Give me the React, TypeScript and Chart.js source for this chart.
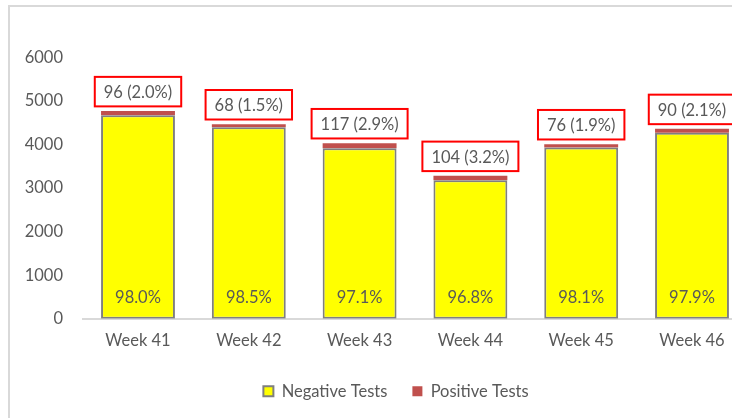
import React, { useEffect, useRef } from "react";
import { Chart, registerables } from "chart.js";

Chart.register(...registerables);

const categories = ["Week 41", "Week 42", "Week 43", "Week 44", "Week 45", "Week 46"];
const negativeTests = [4670, 4397, 3913, 3177, 3931, 4268];
const positiveTests = [96, 68, 117, 104, 76, 90];
const yMax = 6000;
const yStep = 1000;

const FONT = "Lato";
const FS = 16.5;
const TEXT = "#595959";

const labelPlugin = {
  id: "valueLabels",
  afterLayout(chart: any) {
    // centre the legend on the whole chart frame, as in the source
    if (chart.legend) {
      chart.legend.left = 34.6;
    }
  },
  afterDatasetsDraw(chart: any) {
    const ctx = chart.ctx;
    const negMeta = chart.getDatasetMeta(0);
    const posMeta = chart.getDatasetMeta(1);
    ctx.save();
    ctx.font = `${FS}px ${FONT}`;
    ctx.textAlign = "center";
    ctx.textBaseline = "middle";
    categories.forEach((_, i) => {
      const total = negativeTests[i] + positiveTests[i];
      const negPct = ((negativeTests[i] / total) * 100).toFixed(1) + "%";
      const posPct = ((positiveTests[i] / total) * 100).toFixed(1) + "%";
      const negEl = negMeta.data[i];
      const posEl = posMeta.data[i];
      ctx.fillStyle = TEXT;
      ctx.fillText(negPct, negEl.x, negEl.base - 21.6);
      const txt = `${positiveTests[i]} (${posPct})`;
      const tw = ctx.measureText(txt).width;
      const w = tw + 18;
      const h = 29.5;
      const bottom = posEl.y - 4.7;
      const top = bottom - h;
      ctx.fillStyle = "#ffffff";
      ctx.fillRect(posEl.x - w / 2, top, w, h);
      ctx.strokeStyle = "#ff0000";
      ctx.lineWidth = 2;
      ctx.strokeRect(posEl.x - w / 2, top, w, h);
      ctx.fillStyle = TEXT;
      ctx.fillText(txt, posEl.x, top + h / 2 + 1);
    });
    ctx.restore();
  },
};

export default function App() {
  const ref = useRef<HTMLCanvasElement>(null);
  useEffect(() => {
    let chart: Chart | null = null;
    let cancelled = false;
    const make = () => {
      if (cancelled || !ref.current) return;
      chart = new Chart(ref.current, {
        type: "bar",
        data: {
          labels: categories,
          datasets: [
            {
              label: "Negative Tests",
              data: negativeTests,
              backgroundColor: "#ffff00",
              borderColor: "#7f7f7f",
              borderWidth: 2,
              borderSkipped: false,
              barPercentage: 0.667,
              categoryPercentage: 1,
            },
            {
              label: "Positive Tests",
              data: positiveTests,
              backgroundColor: "#c0504d",
              borderWidth: 0,
              barPercentage: 0.667,
              categoryPercentage: 1,
            },
          ],
        },
        options: {
          responsive: false,
          animation: false,
          devicePixelRatio: 1,
          layout: { padding: { left: 0, right: 22.6, top: 50.3, bottom: 17.5 } },
          font: { family: FONT, size: FS },
          scales: {
            x: {
              stacked: true,
              grid: { display: false, drawTicks: false },
              border: { display: true, color: "#d9d9d9", width: 2 },
              ticks: { color: TEXT, font: { family: FONT, size: FS }, padding: 12 },
              afterFit: (s: any) => {
                s.height = 39.2;
              },
            },
            y: {
              stacked: true,
              min: 0,
              max: yMax,
              grid: { display: false, drawTicks: false },
              border: { display: false },
              ticks: {
                stepSize: yStep,
                color: TEXT,
                font: { family: FONT, size: FS },
                padding: 19.6,
                callback: (v: any) => String(v),
              },
              afterFit: (s: any) => {
                s.width = 72.6;
              },
            },
          },
          plugins: {
            legend: {
              position: "bottom",
              labels: {
                color: TEXT,
                font: { family: FONT, size: FS },
                boxWidth: 10,
                boxHeight: 10,
                padding: 25,
              },
            },
            tooltip: { enabled: false },
          },
        } as any,
        plugins: [labelPlugin],
      });
    };
    (document as any).fonts
      ? (document as any).fonts.load(`${FS}px ${FONT}`).then(make, make)
      : make();
    return () => {
      cancelled = true;
      if (chart) chart.destroy();
    };
  }, []);
  return (
    <div
      style={{
        position: "fixed",
        left: 0,
        top: 0,
        width: 732,
        height: 418,
        overflow: "hidden",
        background: "#ffffff",
      }}
    >
      <div
        style={{
          position: "absolute",
          left: 8,
          top: 5,
          width: 790,
          height: 440,
          border: "2px solid #d9d9d9",
          boxSizing: "border-box",
        }}
      >
        <canvas
          ref={ref}
          width={760}
          height={420}
          style={{ position: "absolute", left: 0, top: 0, width: 760, height: 420 }}
        />
      </div>
    </div>
  );
}
